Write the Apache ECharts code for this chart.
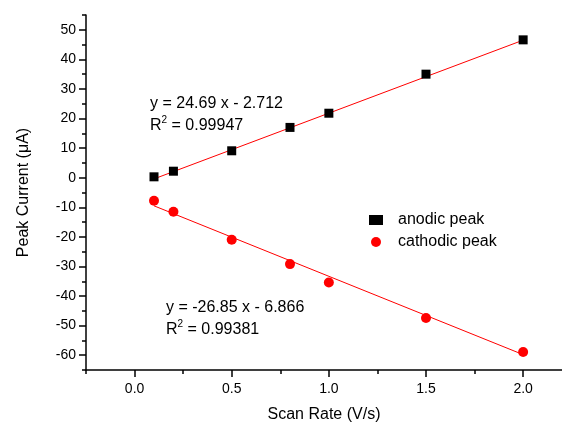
<!DOCTYPE html>
<html>
<head>
<meta charset="utf-8">
<script src="https://cdn.jsdelivr.net/npm/echarts@6/dist/echarts.min.js"></script>
<style>
  html, body { margin: 0; padding: 0; background: #fff; }
  #chart { width: 562px; height: 428px; }
</style>
</head>
<body>
<div id="chart"></div>
<script>
var scanRate = [0.1, 0.2, 0.5, 0.8, 1.0, 1.5, 2.0];
var anodic = [0.3, 2.2, 9.1, 17.0, 21.8, 35.0, 46.6];
var cathodic = [-7.8, -11.5, -21.0, -29.2, -35.4, -47.4, -58.9];

// fitted line end points (x = 0.1 and x = 2.0)
var fitX = [0.1, 2.0];
var anodicFit = [-0.4, 46.5];
var cathodicFit = [-9.5, -59.8];

var xLabels = [0, 0.5, 1.0, 1.5, 2.0];
var xMinor = [-0.25, 0.25, 0.75, 1.25, 1.75];
var yLabels = [-60, -50, -40, -30, -20, -10, 0, 10, 20, 30, 40, 50];
var yMinor = [-65, -55, -45, -35, -25, -15, -5, 5, 15, 25, 35, 45, 55];

function pairs(xs, ys) {
    var out = [];
    for (var i = 0; i < xs.length; i++) {
        out.push([xs[i], ys[i]]);
    }
    return out;
}

var font = 'Liberation Sans, Arial, sans-serif';
var tickStyle = { color: '#000', width: 1.5 };

var chart = echarts.init(document.getElementById('chart'));
var option = {
    backgroundColor: '#fff',
    animation: false,
    textStyle: { fontFamily: font, color: '#000' },
    grid: { left: 86, right: 0, top: 15, bottom: 54 },
    legend: {
        orient: 'vertical',
        left: 364,
        top: 207,
        itemGap: 6,
        itemWidth: 14,
        itemHeight: 10,
        textStyle: { fontFamily: font, fontSize: 16, color: '#000', padding: [0, 0, 0, 10] },
        data: [
            { name: 'anodic peak', icon: 'rect' },
            { name: 'cathodic peak', icon: 'circle' }
        ]
    },
    xAxis: [{
        type: 'value',
        min: -0.25,
        max: 2.2,
        name: 'Scan Rate (V/s)',
        nameLocation: 'middle',
        nameGap: 37,
        nameTextStyle: { fontFamily: font, fontSize: 16, color: '#000' },
        axisLine: { show: true, onZero: false, lineStyle: tickStyle },
        axisTick: { show: true, customValues: xLabels, length: 7, lineStyle: tickStyle },
        axisLabel: {
            customValues: xLabels,
            margin: 12,
            fontSize: 14,
            color: '#000',
            formatter: function (v) { return v.toFixed(1); }
        },
        splitLine: { show: false }
    }, {
        type: 'value',
        min: -0.25,
        max: 2.2,
        position: 'bottom',
        axisLine: { show: false, onZero: false },
        axisTick: { show: true, customValues: xMinor, length: 4, lineStyle: tickStyle },
        axisLabel: { show: false },
        splitLine: { show: false }
    }],
    yAxis: [{
        type: 'value',
        min: -65,
        max: 55,
        name: 'Peak Current (\u03bcA)',
        nameLocation: 'middle',
        nameGap: 54,
        nameTextStyle: { fontFamily: font, fontSize: 16, color: '#000' },
        axisLine: { show: true, onZero: false, lineStyle: tickStyle },
        axisTick: { show: true, customValues: yLabels, length: 7, lineStyle: tickStyle },
        axisLabel: { customValues: yLabels, margin: 10, fontSize: 14, color: '#000' },
        splitLine: { show: false }
    }, {
        type: 'value',
        min: -65,
        max: 55,
        position: 'left',
        axisLine: { show: false, onZero: false },
        axisTick: { show: true, customValues: yMinor, length: 4, lineStyle: tickStyle },
        axisLabel: { show: false },
        splitLine: { show: false }
    }],
    graphic: [{
        type: 'text',
        left: 150,
        top: 93,
        style: {
            text: 'y = 24.69 x - 2.712\nR{sup|2} = 0.99947',
            font: '16px ' + font,
            fill: '#000',
            lineHeight: 22,
            rich: { sup: { fontSize: 10, verticalAlign: 'top', padding: [0, 0, 8, 0] } }
        }
    }, {
        type: 'text',
        left: 166,
        top: 297,
        style: {
            text: 'y = -26.85 x - 6.866\nR{sup|2} = 0.99381',
            font: '16px ' + font,
            fill: '#000',
            lineHeight: 22,
            rich: { sup: { fontSize: 10, verticalAlign: 'top', padding: [0, 0, 8, 0] } }
        }
    }],
    series: [{
        name: 'anodic fit',
        type: 'line',
        data: pairs(fitX, anodicFit),
        symbol: 'none',
        lineStyle: { color: '#ff0000', width: 1 },
        z: 1
    }, {
        name: 'cathodic fit',
        type: 'line',
        data: pairs(fitX, cathodicFit),
        symbol: 'none',
        lineStyle: { color: '#ff0000', width: 1 },
        z: 1
    }, {
        name: 'anodic peak',
        type: 'scatter',
        data: pairs(scanRate, anodic),
        symbol: 'rect',
        symbolSize: 9,
        itemStyle: { color: '#000', opacity: 1 },
        z: 2
    }, {
        name: 'cathodic peak',
        type: 'scatter',
        data: pairs(scanRate, cathodic),
        symbol: 'circle',
        symbolSize: 10,
        itemStyle: { color: '#ff0000', opacity: 1 },
        z: 2
    }]
};
chart.setOption(option);
</script>
</body>
</html>
